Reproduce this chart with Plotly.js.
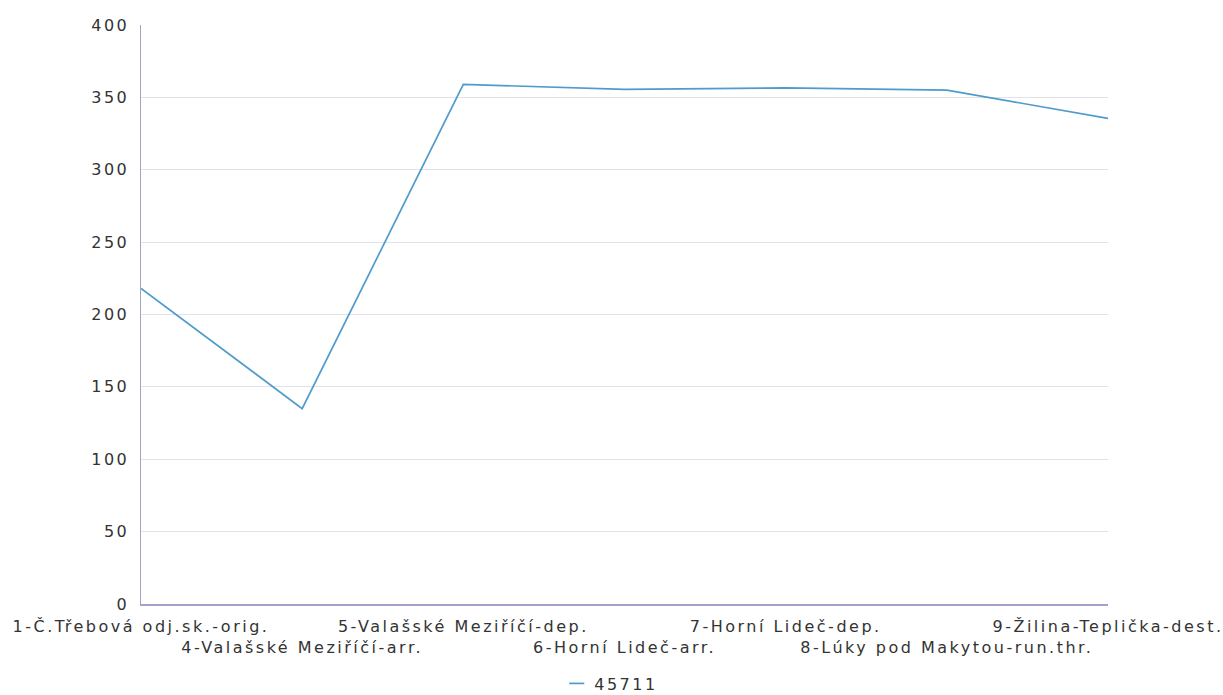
<!DOCTYPE html>
<html>
<head>
<meta charset="utf-8">
<script src="https://cdn.plot.ly/plotly-3.0.1.min.js"></script>
<style>
html,body{margin:0;padding:0;background:#fff;}
#chart{width:1223px;height:695px;}
#chart text{letter-spacing:2.5px;}
</style>
</head>
<body>
<div id="chart"></div>
<script>
const categories = [
  "1-Č.Třebová odj.sk.-orig.",
  "4-Valašské Meziříčí-arr.",
  "5-Valašské Meziříčí-dep.",
  "6-Horní Lideč-arr.",
  "7-Horní Lideč-dep.",
  "8-Lúky pod Makytou-run.thr.",
  "9-Žilina-Teplička-dest."
];
const values45711 = [218, 135, 359, 355.5, 356.5, 355, 335.5];
const seriesName = "45711";
const yTicks = [0, 50, 100, 150, 200, 250, 300, 350, 400];

const idx = categories.map((c, i) => i);
const tickText = categories.map((c, i) => (i % 2 === 1 ? "<br>" + c : c));

const font = {family: "DejaVu Sans, sans-serif", size: 16, color: "#333333"};

Plotly.newPlot("chart", [{
  type: "scatter",
  mode: "lines",
  x: idx,
  y: values45711,
  name: seriesName,
  line: {color: "#4f9bcb", width: 1.7},
  showlegend: true
}], {
  width: 1223, height: 695,
  margin: {l: 141, r: 115, t: 25, b: 91},
  paper_bgcolor: "#ffffff",
  plot_bgcolor: "#ffffff",
  font: font,
  xaxis: {
    range: [0, idx.length - 1],
    tickmode: "array",
    tickvals: idx,
    ticktext: tickText,
    showgrid: false,
    zeroline: false,
    showline: true,
    linecolor: "#a3a3c8",
    linewidth: 1.5,
    ticks: "outside",
    ticklen: 7,
    tickcolor: "rgba(0,0,0,0)",
    tickangle: 0,
    tickfont: font,
    automargin: false
  },
  yaxis: {
    range: [0, 400],
    tickmode: "array",
    tickvals: yTicks,
    showgrid: true,
    gridcolor: "#e2e2ec",
    gridwidth: 1,
    zeroline: false,
    showline: true,
    linecolor: "#a3a3c8",
    linewidth: 1.5,
    ticks: "outside",
    ticklen: 7,
    tickcolor: "rgba(0,0,0,0)",
    tickfont: font,
    automargin: false
  },
  legend: {
    orientation: "h",
    x: 0.477, xanchor: "center",
    yref: "container",
    y: 0.041, yanchor: "top",
    font: font,
    itemwidth: 30
  },
  showlegend: true
}, {displayModeBar: false, staticPlot: true}).then(function(gd){
  // shorten the legend line symbol to match the reference's short dash
  gd.querySelectorAll('.legendlines path').forEach(function(p){
    p.setAttribute('d', 'M15,0h15');
  });
  gd.querySelectorAll('.legend .scrollbox').forEach(function(el){
    el.removeAttribute('clip-path');
  });
});
</script>
</body>
</html>
